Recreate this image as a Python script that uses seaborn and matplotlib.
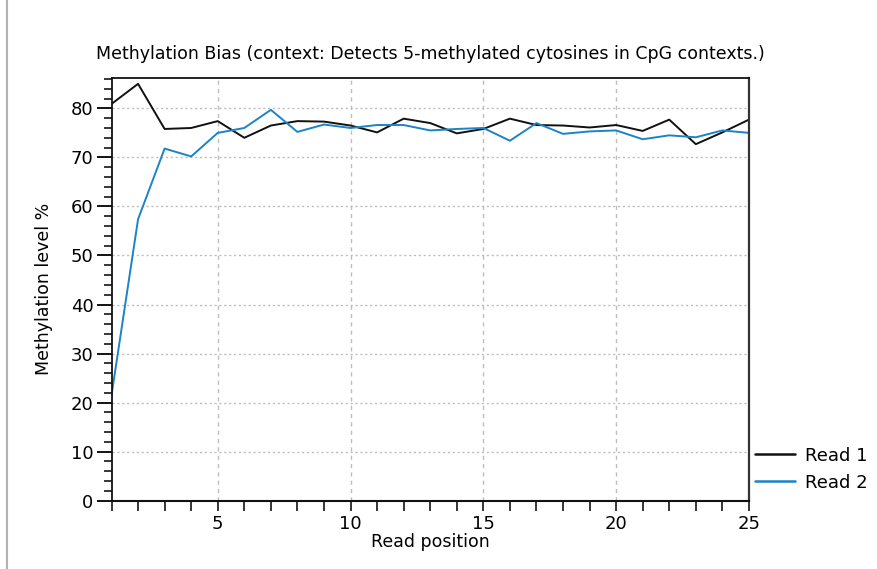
import numpy as np
import pandas as pd
import matplotlib
matplotlib.use('Agg')
import matplotlib.pyplot as plt
from matplotlib.lines import Line2D
from matplotlib.ticker import MultipleLocator
import seaborn as sns

# values
positions = list(range(1, 26))
read1 = [80.9, 85.0, 75.8, 76.0, 77.4, 74.0, 76.5, 77.4, 77.3, 76.5,
         75.1, 77.9, 77.0, 74.9, 75.8, 77.9, 76.6, 76.5, 76.1, 76.6,
         75.4, 77.7, 72.7, 75.1, 77.7]
read2 = [21.5, 57.4, 71.8, 70.2, 75.0, 76.0, 79.7, 75.2, 76.7, 76.0,
         76.6, 76.6, 75.5, 75.8, 76.0, 73.4, 77.0, 74.8, 75.3, 75.5,
         73.7, 74.5, 74.1, 75.5, 75.0]
series_names = ["Read 1", "Read 2"]
series_colors = ["#111111", "#1b83c6"]

title = "Methylation Bias (context: Detects 5-methylated cytosines in CpG contexts.)"
x_label = "Read position"
y_label = "Methylation level %"

df = pd.DataFrame({
    "position": positions * 2,
    "level": read1 + read2,
    "read": [series_names[0]] * len(read1) + [series_names[1]] * len(read2),
})

sns.set_style("white")
plt.rcParams['font.family'] = ['DejaVu Sans']
plt.rcParams['text.color'] = "#000000"
plt.rcParams['axes.labelcolor'] = "#000000"
plt.rcParams['xtick.color'] = "#000000"
plt.rcParams['ytick.color'] = "#000000"

fig = plt.figure(figsize=(8.78, 5.69), dpi=100)
ax = fig.add_axes([0.127, 0.120, 0.726, 0.743])

sns.lineplot(data=df, x="position", y="level", hue="read",
             palette=dict(zip(series_names, series_colors)),
             linewidth=1.4, ax=ax, legend=False)

ax.set_xlim(1, 25)
ax.set_ylim(0, 86.2)

ax.xaxis.set_major_locator(MultipleLocator(5))
ax.xaxis.set_minor_locator(MultipleLocator(1))
ax.yaxis.set_major_locator(MultipleLocator(10))
ax.yaxis.set_minor_locator(MultipleLocator(2))

ax.tick_params(axis="y", which="major", direction="out", length=11,
               width=1.3, labelsize=13, pad=2, left=True)
ax.tick_params(axis="y", which="minor", direction="out", length=6,
               width=1.1, left=True)
ax.tick_params(axis="x", which="both", direction="out", length=7,
               width=1.1, labelsize=13, pad=3, bottom=True)

ax.grid(True, axis="y", which="major", color="#bdbdbd", linestyle=(0, (1.5, 2.0)),
        linewidth=1.0)
ax.grid(True, axis="x", which="major", color="#bdbdbd", linestyle=(0, (3, 3)),
        linewidth=1.0)

for side in ["left", "bottom", "top", "right"]:
    ax.spines[side].set_visible(True)
    ax.spines[side].set_color("#111111")
ax.spines["left"].set_linewidth(1.3)
ax.spines["bottom"].set_linewidth(1.5)
ax.spines["top"].set_linewidth(1.3)
ax.spines["right"].set_linewidth(1.6)
ax.spines["right"].set_color("#333333")

ax.set_title(title, fontsize=12.5, pad=14)
ax.set_xlabel(x_label, fontsize=12.5, labelpad=0)
ax.set_ylabel(y_label, fontsize=12.5, labelpad=13)

handles = [Line2D([0], [0], color=c, linewidth=1.8) for c in series_colors]
ax.legend(handles, series_names, loc="lower left", bbox_to_anchor=(0.998, 0.004),
          frameon=False, fontsize=13, handlelength=2.2, handletextpad=0.55,
          labelspacing=0.5, borderaxespad=0.0)

fig.add_artist(Line2D([0.008, 0.008], [0, 1], color="#b0b0b0", linewidth=1.5))

fig.savefig("out.png", dpi=100)
plt.close('all')
